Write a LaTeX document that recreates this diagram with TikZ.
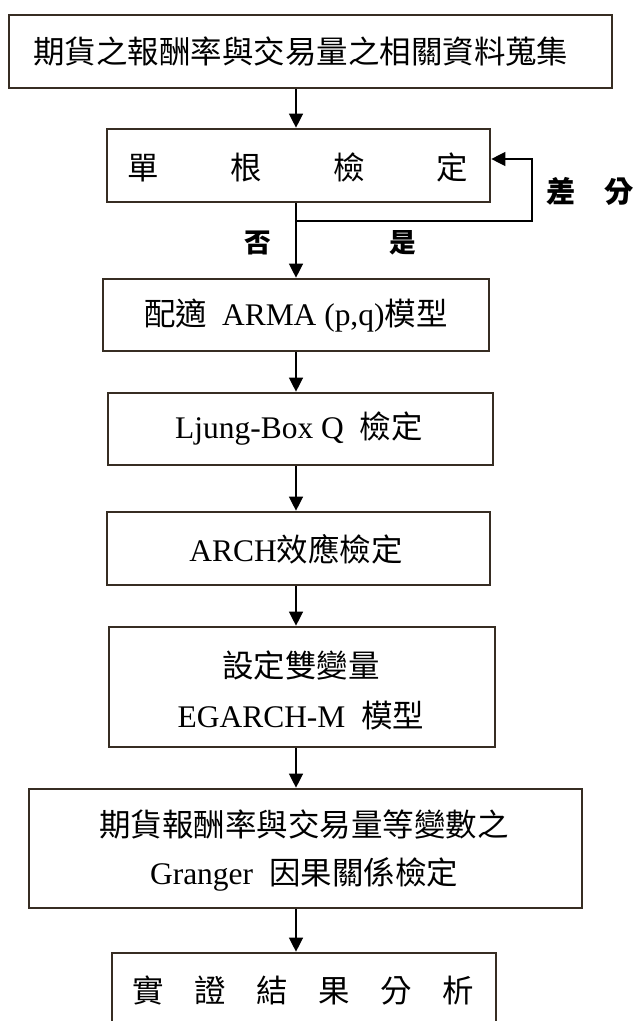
\documentclass[tikz,border=0pt]{standalone}
\usepackage{fontspec}
\setmainfont{Liberation Serif}
\newfontfamily\cjk{Noto Sans CJK TC}
\usetikzlibrary{arrows.meta,fit}
\definecolor{boxline}{RGB}{55,45,35}
\newcommand\zh[1]{{\cjk #1}}
\begin{document}
\begin{tikzpicture}[x=0.75pt,y=-0.75pt,
  box/.style={draw=boxline,line width=2pt,inner sep=0pt},
  txt/.style={inner sep=0pt,align=center,font=\fontsize{23.6pt}{37.5pt}\selectfont},
  arr/.style={line width=1pt,-{Triangle[length=10.5pt,width=10.5pt]}},
  plain/.style={line width=1pt},
  lbl/.style={inner sep=0pt,font=\cjk\bfseries\fontsize{20pt}{24pt}\selectfont}]
\clip (0,0) rectangle (640,1021);
% boxes
\node[box,fit={(9,15) (612,88)}] (b1) {};
\node[box,fit={(107,129) (490,202)}] (b2) {};
\node[box,fit={(103,279) (489,351)}] (b3) {};
\node[box,fit={(108,393) (493,465)}] (b4) {};
\node[box,fit={(107,512) (490,585)}] (b5) {};
\node[box,fit={(109,627) (495,747)}] (b6) {};
\node[box,fit={(29,789) (582,908)}] (b7) {};
\node[box,fit={(112,953) (496,1027)}] (b8) {};
% texts
\node[txt] (t1) at (301,52) {\zh{期貨之報酬率與交易量之相關資料蒐集}};
\node[txt] (t2) at (298,167) {\zh{單\hspace{53.6pt}根\hspace{53.6pt}檢\hspace{53.6pt}定}};
\node[txt] (t3) at (296,316) {\zh{配適}\hspace{11pt}ARMA (p,q)\zh{模型}};
\node[txt] (t4) at (299,429) {Ljung-Box Q\hspace{12pt}\zh{檢定}};
\node[txt] (t5) at (296,549) {ARCH\zh{效應檢定}};
\node[txt] (t6) at (301,690) {\zh{設定雙變量}\\EGARCH-M\hspace{12pt}\zh{模型}};
\node[txt,font=\fontsize{23.6pt}{36pt}\selectfont] (t7) at (304,851) {\zh{期貨報酬率與交易量等變數之}\\Granger\hspace{12pt}\zh{因果關係檢定}};
\node[txt] (t8) at (303,990) {\zh{實\hspace{22.9pt}證\hspace{22.9pt}結\hspace{22.9pt}果\hspace{22.9pt}分\hspace{22.9pt}析}};
% labels
\node[lbl] (no) at (258,243) {否};
\node[lbl] (yes) at (403,243) {是};
\node[lbl,font=\cjk\bfseries\fontsize{22pt}{26pt}\selectfont] (diff) at (590,191) {差\hspace{22pt}分};
% connectors
\coordinate (ax) at (296,0);
\coordinate (j) at (296,221);
\coordinate (lp) at (532,159);
\draw[arr] (b1.south -| ax) -- (b2.north -| ax);
\draw[arr] (b2.south -| ax) -- (b3.north -| ax);
\draw[arr] (j) -| (lp) -- (b2.east |- lp);
\draw[arr] (b3.south -| ax) -- (b4.north -| ax);
\draw[arr] (b4.south -| ax) -- (b5.north -| ax);
\draw[arr] (b5.south -| ax) -- (b6.north -| ax);
\draw[arr] (b6.south -| ax) -- (b7.north -| ax);
\draw[arr] (b7.south -| ax) -- (b8.north -| ax);
\end{tikzpicture}
\end{document}
